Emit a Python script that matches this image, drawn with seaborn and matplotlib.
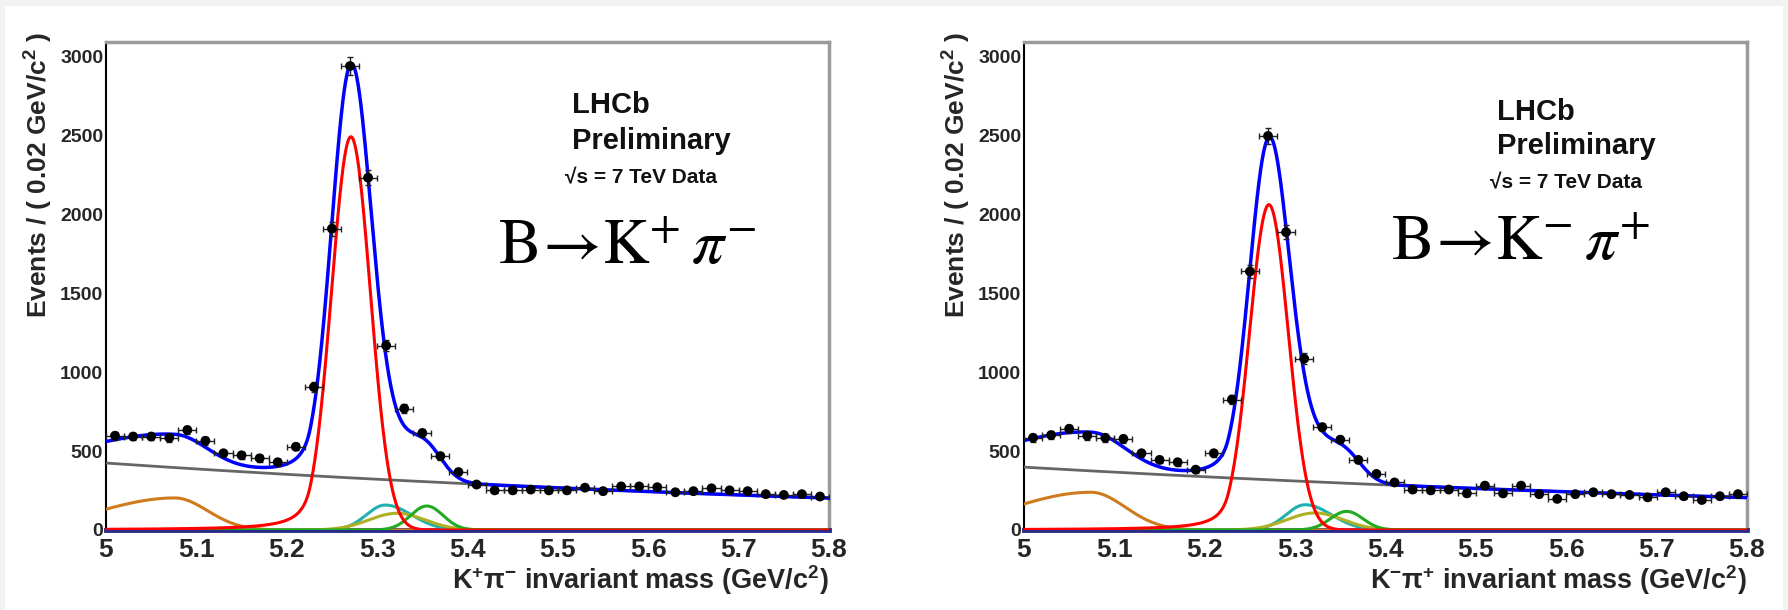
import numpy as np
import pandas as pd
import matplotlib
matplotlib.use("Agg")
import matplotlib.pyplot as plt
import seaborn as sns
from matplotlib.ticker import MultipleLocator, FuncFormatter
from matplotlib.patches import Rectangle

# ---------------- data ----------------
mass_low, mass_high, bin_width = 5.0, 5.8, 0.02
bin_centers = np.round(np.arange(mass_low + bin_width / 2, mass_high, bin_width), 3)

counts_kpi = [597, 592, 592, 584, 633, 565, 486, 473, 454, 429,
              527, 905, 1908, 2938, 2231, 1168, 769, 614, 468, 367,
              288, 251, 251, 256, 251, 251, 268, 246, 276, 276,
              271, 239, 246, 264, 251, 246, 227, 222, 227, 212]

counts_kbarpi = [584, 601, 641, 597, 584, 577, 486, 444, 429, 382,
                 486, 826, 1637, 2495, 1886, 1085, 651, 572, 444, 355,
                 301, 256, 251, 256, 232, 281, 232, 281, 227, 197,
                 227, 239, 227, 222, 207, 239, 214, 190, 214, 227]

# fit-component parameters
# signal (Crystal Ball): mean, sigma, alpha, n, height
signal_kpi = (5.271, 0.0215, 2.1, 1.5, 2490)
signal_kbarpi = (5.271, 0.0215, 2.1, 1.5, 2060)
# part of the total that sits under the signal peak (not drawn separately)
extra_kpi = (5.271, 0.028, 73)
extra_kbarpi = (5.271, 0.028, 55)
# combinatorial background (exponential): value at 5.0, slope
comb_kpi = (424, 0.925)
comb_kbarpi = (398, 0.83)
# partially reconstructed (bifurcated gaussian): mean, height, sigma_left, sigma_right
partreco_kpi = (5.076, 203, 0.082, 0.036)
partreco_kbarpi = (5.074, 239, 0.086, 0.038)
# peaking misID components (bifurcated gaussian): mean, height, sigma_left, sigma_right
cyan_kpi = (5.309, 158, 0.021, 0.029)
cyan_kbarpi = (5.311, 160, 0.021, 0.029)
olive_kpi = (5.322, 106, 0.031, 0.031)
olive_kbarpi = (5.322, 108, 0.031, 0.031)
green_kpi = (5.355, 152, 0.018, 0.018)
green_kbarpi = (5.357, 118, 0.018, 0.018)

xlabels = ["K$^\\mathregular{+}$π$^\\mathregular{-}$ invariant mass (GeV/c$^\\mathregular{2}$)",
           "K$^\\mathregular{-}$π$^\\mathregular{+}$ invariant mass (GeV/c$^\\mathregular{2}$)"]
ylabel = "Events / ( 0.02 GeV/c$^\\mathregular{2}$ )"
decay_labels = [r"$\mathrm{B}\!\rightarrow\!\mathrm{K}^{+}\,\pi^{-}$",
                r"$\mathrm{B}\!\rightarrow\!\mathrm{K}^{-}\,\pi^{+}$"]

# ---------------- model shapes ----------------
def crystal_ball(x, mean, sigma, alpha, n, h):
    t = (x - mean) / sigma
    out = np.exp(-0.5 * t ** 2)
    a = (n / alpha) ** n * np.exp(-0.5 * alpha ** 2)
    b = n / alpha - alpha
    m = t < -alpha
    out[m] = a / (b - t[m]) ** n
    return h * out

def gauss(x, mean, sigma, h):
    return h * np.exp(-0.5 * ((x - mean) / sigma) ** 2)

def expo(x, v0, k):
    return v0 * np.exp(-k * (x - mass_low))

def bifur(x, mean, h, sl, sr):
    s = np.where(x < mean, sl, sr)
    return h * np.exp(-0.5 * ((x - mean) / s) ** 2)

sns.set_style("white")
plt.rcParams["font.family"] = ["Liberation Sans", "DejaVu Sans"]

fig = plt.figure(figsize=(17.88, 6.10), dpi=100)
fig.patch.set_facecolor("#f2f2f2")
fig.add_artist(Rectangle((5 / 1788, 0), 1 - 10 / 1788, 1 - 6 / 610,
                         transform=fig.transFigure, facecolor="white",
                         edgecolor="none", zorder=-10))

panels = [
    dict(left=106, counts=counts_kpi, sig=signal_kpi, extra=extra_kpi, comb=comb_kpi,
         pr=partreco_kpi, cy=cyan_kpi, ol=olive_kpi, gr=green_kpi,
         xl=xlabels[0], decay=decay_labels[0],
         txt=dict(lx=0.645, y1=0.8545, y2=0.781, y3=0.710, bx=0.542, by=0.545)),
    dict(left=1024, counts=counts_kbarpi, sig=signal_kbarpi, extra=extra_kbarpi, comb=comb_kbarpi,
         pr=partreco_kbarpi, cy=cyan_kbarpi, ol=olive_kbarpi, gr=green_kbarpi,
         xl=xlabels[1], decay=decay_labels[1],
         txt=dict(lx=0.654, y1=0.840, y2=0.770, y3=0.699, bx=0.508, by=0.553)),
]

xs = np.linspace(mass_low, mass_high, 1601)

for p in panels:
    ax = fig.add_axes([p["left"] / 1788, 80 / 610, 723 / 1788, 488 / 610])
    comb = expo(xs, *p["comb"])
    pr = bifur(xs, *p["pr"])
    sig = crystal_ball(xs, *p["sig"])
    ext = gauss(xs, *p["extra"])
    cy = bifur(xs, *p["cy"])
    ol = bifur(xs, *p["ol"])
    gr = bifur(xs, *p["gr"])
    total = comb + pr + sig + ext + cy + ol + gr

    lw = 2.2
    curves = [(comb, "#666666", 2.0), (pr, "#d07a1e", lw), (cy, "#1fb0b0", lw),
              (ol, "#b0b024", lw), (gr, "#22aa22", lw), (sig, "#ff0000", lw),
              (total, "#0000ff", 2.5)]
    for yv, col, w in curves:
        sns.lineplot(x=xs, y=yv, ax=ax, color=col, linewidth=w, zorder=3)

    df = pd.DataFrame({"m": bin_centers, "n": p["counts"]})
    ax.errorbar(df["m"], df["n"], xerr=bin_width / 2, yerr=np.sqrt(df["n"]),
                fmt="none", ecolor="#222222", elinewidth=1.0, capsize=2, capthick=1.0, zorder=4)
    sns.scatterplot(data=df, x="m", y="n", ax=ax, color="black", s=50,
                    edgecolor="none", zorder=5)

    ax.set_xlim(mass_low, mass_high)
    ax.set_ylim(0, 3090)
    ax.xaxis.set_major_locator(MultipleLocator(0.1))
    ax.xaxis.set_minor_locator(MultipleLocator(0.02))
    ax.yaxis.set_major_locator(MultipleLocator(500))
    ax.yaxis.set_minor_locator(MultipleLocator(100))
    ax.xaxis.set_major_formatter(FuncFormatter(lambda v, _: f"{v:.1f}".rstrip("0").rstrip(".")))
    ax.tick_params(axis="both", which="both", direction="in", top=False, right=False,
                   color="black", width=1.2)
    ax.tick_params(axis="both", which="major", length=10)
    ax.tick_params(axis="both", which="minor", length=5)
    ax.tick_params(axis="y", labelsize=14, pad=2)
    ax.tick_params(axis="x", labelsize=19, pad=6)
    for lab in ax.get_xticklabels() + ax.get_yticklabels():
        lab.set_fontweight("bold")

    for s in ["top", "right"]:
        ax.spines[s].set_color("#9a9a9a")
        ax.spines[s].set_linewidth(2.5)
    ax.spines["left"].set_color("black")
    ax.spines["left"].set_linewidth(1.5)
    ax.spines["bottom"].set_color("#2b2b8a")
    ax.spines["bottom"].set_linewidth(3.5)

    ax.set_xlabel(p["xl"], fontsize=19.5, fontweight="bold", loc="right")
    ax.xaxis.set_label_coords(1.0, -0.068)
    ax.set_ylabel(ylabel, fontsize=19, fontweight="bold", loc="top")
    ax.yaxis.set_label_coords(-0.072, 1.02)

    t = p["txt"]
    ax.text(t["lx"], t["y1"], "LHCb", transform=ax.transAxes, fontsize=21,
            fontweight="bold", va="baseline", color="#111111")
    ax.text(t["lx"], t["y2"], "Preliminary", transform=ax.transAxes, fontsize=21,
            fontweight="bold", va="baseline", color="#111111")
    ax.text(t["lx"] - 0.01, t["y3"], "√s = 7 TeV Data", transform=ax.transAxes,
            fontsize=15, fontweight="bold", va="baseline", color="#111111")
    ax.text(t["bx"], t["by"], p["decay"], transform=ax.transAxes, fontsize=46,
            va="baseline", math_fontfamily="stix", color="black")

fig.savefig("out.png", dpi=100, facecolor=fig.get_facecolor())
